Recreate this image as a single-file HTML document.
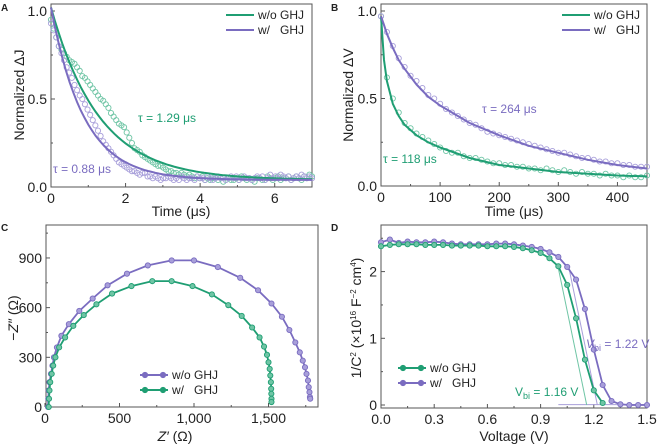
<!DOCTYPE html>
<html><head><meta charset="utf-8">
<style>
html,body{margin:0;padding:0;background:#fff;}
svg{display:block;font-family:"Liberation Sans",Arial,sans-serif;}
</style></head>
<body>
<svg id="fig" width="660" height="446" viewBox="0 0 660 446" xmlns="http://www.w3.org/2000/svg"></svg>
<script>
// ===== Panel A data =====
const aTime = [];
const aGreenVals = [0.95,0.90,0.85,0.80,0.78,0.76,0.74,0.72,0.71,0.70,0.68,0.66,0.63,0.62,0.60,0.58,0.56,0.54,0.52,0.50,0.49,0.47,0.45,0.42,0.40,0.38,0.36,0.35,0.34,0.31,0.28,0.25,0.22,0.21,0.20,0.18,0.17,0.16,0.15,0.14,0.13,0.12,0.12,0.11,0.10,0.09,0.09,0.08,0.08,0.07,0.08,0.07,0.06,0.07,0.06,0.05,0.06,0.05,0.06,0.04,0.05,0.04,0.05,0.05,0.04,0.05,0.03,0.04,0.05,0.04,0.04,0.05,0.04,0.06,0.05,0.04,0.05,0.04,0.03,0.05,0.05,0.04,0.04,0.06,0.05,0.04,0.05,0.06,0.04,0.05,0.05,0.06,0.04,0.05,0.06,0.05,0.04,0.06,0.05,0.07,0.06];
const aPurpleVals = [0.93,0.89,0.85,0.80,0.76,0.72,0.68,0.65,0.62,0.58,0.55,0.52,0.50,0.47,0.44,0.41,0.38,0.35,0.32,0.29,0.26,0.24,0.22,0.20,0.18,0.16,0.14,0.13,0.12,0.11,0.10,0.09,0.09,0.08,0.07,0.08,0.08,0.06,0.06,0.05,0.06,0.05,0.04,0.05,0.05,0.06,0.05,0.04,0.05,0.04,0.06,0.05,0.04,0.05,0.05,0.04,0.06,0.05,0.05,0.04,0.06,0.05,0.04,0.05,0.06,0.05,0.05,0.04,0.05,0.06,0.05,0.06,0.04,0.05,0.06,0.05,0.05,0.04,0.05,0.06,0.05,0.06,0.04,0.05,0.07,0.05,0.06,0.05,0.07,0.06,0.05,0.06,0.04,0.05,0.06,0.05,0.07,0.06,0.05,0.06,0.05];
for (let i = 0; i < aGreenVals.length; i++) aTime.push(i * 0.07);
const aTau = [1.29, 0.88];
const aOffset = [0.04, 0.04];
// ===== Panel B data =====
const bTime = [];
const bGreenVals = [0.97,0.62,0.50,0.42,0.36,0.33,0.30,0.28,0.26,0.24,0.22,0.20,0.19,0.19,0.17,0.16,0.16,0.15,0.14,0.13,0.13,0.12,0.12,0.11,0.11,0.10,0.10,0.09,0.10,0.09,0.08,0.09,0.08,0.07,0.08,0.07,0.07,0.06,0.07,0.06,0.06,0.05,0.06,0.05,0.05,0.06];
const bPurpleVals = [0.97,0.88,0.80,0.73,0.68,0.63,0.60,0.56,0.52,0.50,0.47,0.44,0.42,0.40,0.38,0.36,0.35,0.33,0.31,0.30,0.29,0.28,0.27,0.26,0.25,0.24,0.23,0.22,0.21,0.20,0.19,0.19,0.18,0.17,0.16,0.16,0.15,0.14,0.14,0.13,0.13,0.12,0.12,0.11,0.11,0.11];
for (let i = 0; i < bGreenVals.length; i++) bTime.push(i * 10);
const bFitTime = [0,5,10,20,30,40,60,80,100,150,200,250,300,350,400,450];
const bGreenFit = [0.97,0.72,0.60,0.47,0.40,0.35,0.29,0.25,0.22,0.16,0.12,0.10,0.08,0.07,0.06,0.055];
const bPurpleFit = [0.97,0.92,0.87,0.79,0.72,0.67,0.58,0.51,0.46,0.36,0.29,0.23,0.19,0.15,0.12,0.10];
// ===== Panel C data =====
const cPurpleRe = [20,22,25,30,40,50,60,80,110,160,230,320,420,550,690,850,1000,1160,1310,1430,1520,1590,1640,1680,1710,1730,1745,1755,1765,1770,1775,1778,1780];
const cPurpleIm = [0,50,100,150,200,250,300,360,430,500,580,655,735,805,855,885,885,845,780,705,625,545,465,390,330,280,240,200,160,120,90,60,50];
const cGreenRe = [25,27,30,35,45,55,70,95,135,190,260,345,450,580,720,850,990,1120,1230,1320,1390,1440,1470,1490,1500,1508,1512,1516,1518,1519,1520,1520];
const cGreenIm = [0,50,100,150,200,250,300,360,420,490,555,620,685,730,760,760,730,680,615,550,480,420,365,315,270,230,190,150,110,80,50,30];
// ===== Panel D data =====
const dVolt = [];
for (let i = 0; i <= 30; i++) dVolt.push(+(i * 0.05).toFixed(2));
const dGreenVals = [2.38,2.40,2.41,2.41,2.41,2.40,2.40,2.40,2.39,2.39,2.39,2.39,2.38,2.38,2.38,2.37,2.35,2.32,2.28,2.20,2.08,1.80,1.30,0.68,0.22,0.03];
const dPurpleVals = [2.44,2.48,2.43,2.45,2.44,2.44,2.45,2.44,2.42,2.41,2.41,2.41,2.41,2.42,2.42,2.41,2.39,2.37,2.34,2.29,2.22,2.07,1.88,1.44,0.83,0.30,0.06,0.01,0.0,0.0,0.0];
const dVbi = [1.16, 1.22];

const G = "#1f9e73", P = "#7a6cc0", GL = "#6fc5a5", PL = "#a89fda";
const svg = document.getElementById('fig');
const NS = "http://www.w3.org/2000/svg";
function mk(tag, attrs, parent) {
  const e = document.createElementNS(NS, tag);
  for (const k in attrs) e.setAttribute(k, attrs[k]);
  (parent || svg).appendChild(e);
  return e;
}
function txt(x, y, s, attrs, parent) {
  const t = mk('text', Object.assign({x: x, y: y, 'font-size': 14, fill: '#222'}, attrs), parent);
  t.innerHTML = s;
  return t;
}
function axes(g, L, R, T, B, xs, ys, xMajor, xMinor, yMajor, yMinor, xLab, yLab) {
  mk('rect', {x: L, y: T, width: R - L, height: B - T, fill: 'none', stroke: '#555', 'stroke-width': 1}, g);
  xMajor.forEach((v, i) => {
    const x = xs(v);
    const tk = mk('line', {x1: x, x2: x, y1: B, y2: B - 4, stroke: '#555'}, g);
    
    
    const lb = txt(x, B + 16, xLab[i], {'text-anchor': 'middle'}, g);
    
    
  });
  xMinor.forEach(v => { const x = xs(v); mk('line', {x1: x, x2: x, y1: B, y2: B - 2, stroke: '#555'}, g); });
  yMajor.forEach((v, i) => {
    const y = ys(v);
    const tk = mk('line', {x1: L, x2: L + 4, y1: y, y2: y, stroke: '#555'}, g);
    
    
    const lb = txt(L - 4, y + 5, yLab[i], {'text-anchor': 'end'}, g);
    
    
  });
  yMinor.forEach(v => { const y = ys(v); mk('line', {x1: L, x2: L + 2, y1: y, y2: y, stroke: '#555'}, g); });
}
function polyPath(xa, ya, xs, ys) {
  return xa.map((v, i) => (i ? 'L' : 'M') + xs(v).toFixed(1) + ',' + ys(ya[i]).toFixed(1)).join(' ');
}
function circles(g, xa, ya, xs, ys, color, r, fill, name) {
  ya.forEach((v, i) => {
    const c = mk('circle', {cx: xs(xa[i]), cy: ys(v), r: r, fill: fill, stroke: color, 'stroke-width': 0.9}, g);
    
    
  });
}
function legendLine(g, x, y, color, label, marker) {
  mk('line', {x1: x, x2: x + 28, y1: y, y2: y, stroke: color, 'stroke-width': 2}, g);
  if (marker) {
    mk('circle', {cx: x + 5, cy: y, r: 2.6, fill: color, stroke: color}, g);
    mk('circle', {cx: x + 23, cy: y, r: 2.6, fill: color, stroke: color}, g);
  }
  const t = txt(x + 32, y + 4, label, {'font-size': 12}, g);
  
  
}

// ===== Panel A =====
(function () {
  const g = mk('g', {});
  
  
  const L = 51, R = 312, T = 4, B = 187;
  const xs = v => L + v / 7 * (R - L);
  const ys = v => 187 - v * 176;
  axes(g, L, R, T, B, xs, ys, [0,2,4,6], [1,3,5,7], [0,0.5,1], [0.25,0.75], ['0','2','4','6'], ['0.0','0.5','1.0']);
  circles(g, aTime, aGreenVals, xs, ys, GL, 2.6, 'none', 'a-green-point');
  circles(g, aTime, aPurpleVals, xs, ys, PL, 2.6, 'none', 'a-purple-point');
  [G, P].forEach((col, k) => {
    const ft = [], fy = [];
    for (let i = 0; i <= 70; i++) { const t = i * 0.1; ft.push(t); fy.push(aOffset[k] + (1.02 - aOffset[k]) * Math.exp(-t / aTau[k])); }
    const p = mk('path', {d: polyPath(ft, fy, xs, ys), fill: 'none', stroke: col, 'stroke-width': 2}, g);
    
    
  });
  txt(138, 122, 'τ = 1.29 μs', {fill: G, 'font-size': 12}, g);
  txt(53, 173, 'τ = 0.88 μs', {fill: P, 'font-size': 12}, g);
  legendLine(g, 226, 15, G, 'w/o GHJ');
  legendLine(g, 226, 30, P, 'w/&nbsp;&nbsp; GHJ');
  txt(181, 216, 'Time (μs)', {'text-anchor': 'middle'}, g);
  txt(24, 95, 'Normalized ΔJ', {'text-anchor': 'middle', transform: 'rotate(-90 24 95)'}, g);
  txt(1, 11, 'A', {'font-size': 10, 'font-weight': 'bold'}, g);
})();

// ===== Panel B =====
(function () {
  const g = mk('g', {});
  
  
  const L = 381, R = 647, T = 4, B = 186;
  const xs = v => L + v / 450 * (R - L);
  const ys = v => 186 - v * 175;
  axes(g, L, R, T, B, xs, ys, [0,100,200,300,400], [50,150,250,350,450], [0,0.5,1], [0.25,0.75], ['0','100','200','300','400'], ['0.0','0.5','1.0']);
  circles(g, bTime, bGreenVals, xs, ys, GL, 2.6, 'none', 'b-green-point');
  circles(g, bTime, bPurpleVals, xs, ys, PL, 2.6, 'none', 'b-purple-point');
  const p1 = mk('path', {d: polyPath(bFitTime, bGreenFit, xs, ys), fill: 'none', stroke: G, 'stroke-width': 2, 'stroke-linejoin': 'round'}, g);
  
  
  const p2 = mk('path', {d: polyPath(bFitTime, bPurpleFit, xs, ys), fill: 'none', stroke: P, 'stroke-width': 2, 'stroke-linejoin': 'round'}, g);
  
  
  txt(482, 113, 'τ = 264 μs', {fill: P, 'font-size': 12}, g);
  txt(383, 163, 'τ = 118 μs', {fill: G, 'font-size': 12}, g);
  legendLine(g, 562, 15, G, 'w/o GHJ');
  legendLine(g, 562, 30, P, 'w/&nbsp;&nbsp; GHJ');
  txt(514, 216, 'Time (μs)', {'text-anchor': 'middle'}, g);
  txt(353, 95, 'Normalized ΔV', {'text-anchor': 'middle', transform: 'rotate(-90 353 95)'}, g);
  txt(331, 11, 'B', {'font-size': 10, 'font-weight': 'bold'}, g);
})();

// ===== Panel C =====
(function () {
  const g = mk('g', {});
  
  
  const L = 46, R = 318, T = 225, B = 407;
  const xs = v => 45 + v * 0.149;
  const ys = v => 407 - v * 0.1656;
  axes(g, L, R, T, B, xs, ys, [0,500,1000,1500], [250,750,1250,1750], [0,300,600,900], [150,450,750,1050], ['0','500','1,000','1,500'], ['0','300','600','900']);
  const p1 = mk('path', {d: polyPath(cPurpleRe, cPurpleIm, xs, ys), fill: 'none', stroke: P, 'stroke-width': 1.8}, g);
  
  
  const p2 = mk('path', {d: polyPath(cGreenRe, cGreenIm, xs, ys), fill: 'none', stroke: G, 'stroke-width': 1.8}, g);
  
  
  circles(g, cPurpleRe, cPurpleIm, xs, ys, P, 2.6, PL, 'c-purple-point');
  circles(g, cGreenRe, cGreenIm, xs, ys, G, 2.6, GL, 'c-green-point');
  legendLine(g, 140, 375, P, 'w/o GHJ', true);
  legendLine(g, 140, 390, G, 'w/&nbsp;&nbsp; GHJ', true);
  txt(175, 441, '<tspan font-style="italic">Z′</tspan> (Ω)', {'text-anchor': 'middle'}, g);
  txt(18, 318, '−<tspan font-style="italic">Z″</tspan> (Ω)', {'text-anchor': 'middle', transform: 'rotate(-90 18 318)'}, g);
  txt(1, 231, 'C', {'font-size': 10, 'font-weight': 'bold'}, g);
})();

// ===== Panel D =====
(function () {
  const g = mk('g', {});
  
  
  const L = 381, R = 647, T = 225, B = 408;
  const xs = v => 381 + v / 1.5 * 266;
  const ys = v => 405 - v * 66.7;
  axes(g, L, R, T, B, xs, ys, [0,0.3,0.6,0.9,1.2,1.5], [0.15,0.45,0.75,1.05,1.35], [0,1,2], [0.5,1.5,2.5], ['0.0','0.3','0.6','0.9','1.2','1.5'], ['0','1','2']);
  mk('line', {x1: xs(1.0), x2: xs(1.5), y1: ys(0.005), y2: ys(0.005), stroke: PL, 'stroke-width': 1}, g);
  const t1 = mk('line', {x1: xs(1.0), y1: ys(2.05), x2: xs(dVbi[0]), y2: ys(0), stroke: GL, 'stroke-width': 1}, g);
  
  
  const t2 = mk('line', {x1: xs(1.06), y1: ys(2.05), x2: xs(dVbi[1]), y2: ys(0), stroke: PL, 'stroke-width': 1}, g);
  
  
  const gV = dVolt.slice(0, dGreenVals.length);
  const p2 = mk('path', {d: polyPath(dVolt, dPurpleVals, xs, ys), fill: 'none', stroke: P, 'stroke-width': 1.8}, g);
  
  
  const p1 = mk('path', {d: polyPath(gV, dGreenVals, xs, ys), fill: 'none', stroke: G, 'stroke-width': 1.8}, g);
  
  
  circles(g, dVolt, dPurpleVals, xs, ys, P, 2.6, PL, 'd-purple-point');
  circles(g, gV, dGreenVals, xs, ys, G, 2.6, GL, 'd-green-point');
  legendLine(g, 398, 368, G, 'w/o GHJ', true);
  legendLine(g, 398, 383, P, 'w/&nbsp;&nbsp; GHJ', true);
  txt(586, 348, '<tspan font-style="italic">V</tspan><tspan font-size="9" dy="3">bi</tspan><tspan dy="-3"> = 1.22 V</tspan>', {fill: P, 'font-size': 12}, g);
  txt(515, 396, 'V<tspan font-size="9" dy="3">bi</tspan><tspan dy="-3"> = 1.16 V</tspan>', {fill: G, 'font-size': 12}, g);
  txt(514, 441, 'Voltage (V)', {'text-anchor': 'middle'}, g);
  txt(361, 318, '1/C<tspan font-size="8" dy="-5">2</tspan><tspan dy="5"> (×10</tspan><tspan font-size="8" dy="-5">16</tspan><tspan dy="5"> F</tspan><tspan font-size="8" dy="-5">−2</tspan><tspan dy="5"> cm</tspan><tspan font-size="8" dy="-5">4</tspan><tspan dy="5">)</tspan>', {'text-anchor': 'middle', transform: 'rotate(-90 361 318)'}, g);
  txt(331, 231, 'D', {'font-size': 10, 'font-weight': 'bold'}, g);
})();
</script>
</body></html>
